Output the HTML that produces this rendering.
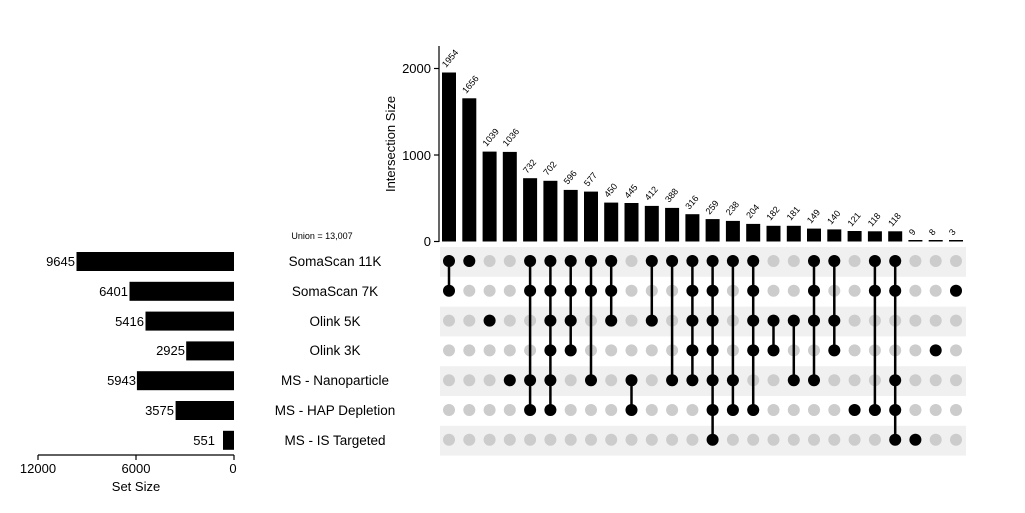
<!DOCTYPE html>
<html><head><meta charset="utf-8"><style>body{margin:0;background:#fff}svg{display:block;font-family:"Liberation Sans",sans-serif}</style></head><body>
<svg width="1025" height="513" viewBox="0 0 1025 513" xmlns="http://www.w3.org/2000/svg">
<g fill="#f0f0f0">
<rect x="440" y="247" width="526" height="29.8"/>
<rect x="440" y="306.6" width="526" height="29.8"/>
<rect x="440" y="366.2" width="526" height="29.8"/>
<rect x="440" y="425.8" width="526" height="29.8"/>
</g>
<!-- top axis -->
<g stroke="#000" stroke-width="1.2">
<line x1="439" y1="46" x2="439" y2="242"/>
<line x1="434" y1="241.5" x2="439" y2="241.5"/>
<line x1="434" y1="155" x2="439" y2="155"/>
<line x1="434" y1="68.5" x2="439" y2="68.5"/>
</g>
<g font-size="13" text-anchor="end" fill="#000">
<text x="431" y="246">0</text>
<text x="431" y="160">1000</text>
<text x="431" y="73">2000</text>
</g>
<text transform="translate(395,144) rotate(-90)" font-size="13" text-anchor="middle">Intersection Size</text>
<g fill="#000">
<rect x="442" y="72.5" width="14" height="169"/>
<rect x="462.3" y="98.3" width="14" height="143.2"/>
<rect x="482.6" y="151.6" width="14" height="89.9"/>
<rect x="502.8" y="151.9" width="14" height="89.6"/>
<rect x="523.1" y="178.2" width="14" height="63.3"/>
<rect x="543.4" y="180.8" width="14" height="60.7"/>
<rect x="563.7" y="189.9" width="14" height="51.6"/>
<rect x="584" y="191.6" width="14" height="49.9"/>
<rect x="604.2" y="202.6" width="14" height="38.9"/>
<rect x="624.5" y="203" width="14" height="38.5"/>
<rect x="644.8" y="205.9" width="14" height="35.6"/>
<rect x="665.1" y="207.9" width="14" height="33.6"/>
<rect x="685.4" y="214.2" width="14" height="27.3"/>
<rect x="705.6" y="219.1" width="14" height="22.4"/>
<rect x="725.9" y="220.9" width="14" height="20.6"/>
<rect x="746.2" y="223.9" width="14" height="17.6"/>
<rect x="766.5" y="225.8" width="14" height="15.7"/>
<rect x="786.8" y="225.8" width="14" height="15.7"/>
<rect x="807" y="228.6" width="14" height="12.9"/>
<rect x="827.3" y="229.4" width="14" height="12.1"/>
<rect x="847.6" y="231" width="14" height="10.5"/>
<rect x="867.9" y="231.3" width="14" height="10.2"/>
<rect x="888.2" y="231.3" width="14" height="10.2"/>
<rect x="908.4" y="240" width="14" height="1.5"/>
<rect x="928.7" y="240" width="14" height="1.5"/>
<rect x="949" y="240" width="14" height="1.5"/>
</g>
<g font-size="9" fill="#000">
<text transform="translate(446,68) rotate(-50)">1954</text>
<text transform="translate(466.3,94) rotate(-50)">1656</text>
<text transform="translate(486.6,147) rotate(-50)">1039</text>
<text transform="translate(506.8,147) rotate(-50)">1036</text>
<text transform="translate(527.1,174) rotate(-50)">732</text>
<text transform="translate(547.4,176) rotate(-50)">702</text>
<text transform="translate(567.7,185) rotate(-50)">596</text>
<text transform="translate(588,187) rotate(-50)">577</text>
<text transform="translate(608.2,198) rotate(-50)">450</text>
<text transform="translate(628.5,199) rotate(-50)">445</text>
<text transform="translate(648.8,201) rotate(-50)">412</text>
<text transform="translate(669.1,203) rotate(-50)">388</text>
<text transform="translate(689.4,210) rotate(-50)">316</text>
<text transform="translate(709.6,215) rotate(-50)">259</text>
<text transform="translate(729.9,216) rotate(-50)">238</text>
<text transform="translate(750.2,219) rotate(-50)">204</text>
<text transform="translate(770.5,221) rotate(-50)">182</text>
<text transform="translate(790.8,221) rotate(-50)">181</text>
<text transform="translate(811,224) rotate(-50)">149</text>
<text transform="translate(831.3,225) rotate(-50)">140</text>
<text transform="translate(851.6,227) rotate(-50)">121</text>
<text transform="translate(871.9,227) rotate(-50)">118</text>
<text transform="translate(892.2,227) rotate(-50)">118</text>
<text transform="translate(913,236) rotate(-50)">9</text>
<text transform="translate(933,236) rotate(-50)">8</text>
<text transform="translate(953,236) rotate(-50)">3</text>
</g>
<!-- gray dots -->
<defs><g id="col"><circle cx="0" cy="261" r="6"/><circle cx="0" cy="290.8" r="6"/><circle cx="0" cy="320.6" r="6"/><circle cx="0" cy="350.4" r="6"/><circle cx="0" cy="380.2" r="6"/><circle cx="0" cy="410" r="6"/><circle cx="0" cy="439.8" r="6"/></g></defs>
<g fill="#cccccc">
<use href="#col" x="449"/><use href="#col" x="469.3"/><use href="#col" x="489.6"/><use href="#col" x="509.8"/><use href="#col" x="530.1"/><use href="#col" x="550.4"/><use href="#col" x="570.7"/><use href="#col" x="591"/><use href="#col" x="611.2"/><use href="#col" x="631.5"/><use href="#col" x="651.8"/><use href="#col" x="672.1"/><use href="#col" x="692.4"/><use href="#col" x="712.6"/><use href="#col" x="732.9"/><use href="#col" x="753.2"/><use href="#col" x="773.5"/><use href="#col" x="793.8"/><use href="#col" x="814"/><use href="#col" x="834.3"/><use href="#col" x="854.6"/><use href="#col" x="874.9"/><use href="#col" x="895.2"/><use href="#col" x="915.4"/><use href="#col" x="935.7"/><use href="#col" x="956"/>
</g>
<!-- lines -->
<g stroke="#000" stroke-width="2.5">
<line x1="449" y1="261" x2="449" y2="290.8"/>
<line x1="530.1" y1="261" x2="530.1" y2="410"/>
<line x1="550.4" y1="261" x2="550.4" y2="410"/>
<line x1="570.7" y1="261" x2="570.7" y2="350.4"/>
<line x1="591" y1="261" x2="591" y2="380.2"/>
<line x1="611.2" y1="261" x2="611.2" y2="320.6"/>
<line x1="631.5" y1="380.2" x2="631.5" y2="410"/>
<line x1="651.8" y1="261" x2="651.8" y2="320.6"/>
<line x1="672.1" y1="261" x2="672.1" y2="380.2"/>
<line x1="692.4" y1="261" x2="692.4" y2="380.2"/>
<line x1="712.6" y1="261" x2="712.6" y2="439.8"/>
<line x1="732.9" y1="261" x2="732.9" y2="410"/>
<line x1="753.2" y1="261" x2="753.2" y2="410"/>
<line x1="773.5" y1="320.6" x2="773.5" y2="350.4"/>
<line x1="793.8" y1="320.6" x2="793.8" y2="380.2"/>
<line x1="814" y1="261" x2="814" y2="380.2"/>
<line x1="834.3" y1="261" x2="834.3" y2="350.4"/>
<line x1="874.9" y1="261" x2="874.9" y2="410"/>
<line x1="895.2" y1="261" x2="895.2" y2="439.8"/>
</g>
<g fill="#000">
<circle cx="449" cy="261" r="6"/><circle cx="449" cy="290.8" r="6"/>
<circle cx="469.3" cy="261" r="6"/>
<circle cx="489.6" cy="320.6" r="6"/>
<circle cx="509.8" cy="380.2" r="6"/>
<circle cx="530.1" cy="261" r="6"/><circle cx="530.1" cy="290.8" r="6"/><circle cx="530.1" cy="380.2" r="6"/><circle cx="530.1" cy="410" r="6"/>
<circle cx="550.4" cy="261" r="6"/><circle cx="550.4" cy="290.8" r="6"/><circle cx="550.4" cy="320.6" r="6"/><circle cx="550.4" cy="350.4" r="6"/><circle cx="550.4" cy="380.2" r="6"/><circle cx="550.4" cy="410" r="6"/>
<circle cx="570.7" cy="261" r="6"/><circle cx="570.7" cy="290.8" r="6"/><circle cx="570.7" cy="320.6" r="6"/><circle cx="570.7" cy="350.4" r="6"/>
<circle cx="591" cy="261" r="6"/><circle cx="591" cy="290.8" r="6"/><circle cx="591" cy="380.2" r="6"/>
<circle cx="611.2" cy="261" r="6"/><circle cx="611.2" cy="290.8" r="6"/><circle cx="611.2" cy="320.6" r="6"/>
<circle cx="631.5" cy="380.2" r="6"/><circle cx="631.5" cy="410" r="6"/>
<circle cx="651.8" cy="261" r="6"/><circle cx="651.8" cy="320.6" r="6"/>
<circle cx="672.1" cy="261" r="6"/><circle cx="672.1" cy="380.2" r="6"/>
<circle cx="692.4" cy="261" r="6"/><circle cx="692.4" cy="290.8" r="6"/><circle cx="692.4" cy="320.6" r="6"/><circle cx="692.4" cy="350.4" r="6"/><circle cx="692.4" cy="380.2" r="6"/>
<circle cx="712.6" cy="261" r="6"/><circle cx="712.6" cy="290.8" r="6"/><circle cx="712.6" cy="320.6" r="6"/><circle cx="712.6" cy="350.4" r="6"/><circle cx="712.6" cy="380.2" r="6"/><circle cx="712.6" cy="410" r="6"/><circle cx="712.6" cy="439.8" r="6"/>
<circle cx="732.9" cy="261" r="6"/><circle cx="732.9" cy="380.2" r="6"/><circle cx="732.9" cy="410" r="6"/>
<circle cx="753.2" cy="261" r="6"/><circle cx="753.2" cy="290.8" r="6"/><circle cx="753.2" cy="320.6" r="6"/><circle cx="753.2" cy="350.4" r="6"/><circle cx="753.2" cy="410" r="6"/>
<circle cx="773.5" cy="320.6" r="6"/><circle cx="773.5" cy="350.4" r="6"/>
<circle cx="793.8" cy="320.6" r="6"/><circle cx="793.8" cy="380.2" r="6"/>
<circle cx="814" cy="261" r="6"/><circle cx="814" cy="290.8" r="6"/><circle cx="814" cy="320.6" r="6"/><circle cx="814" cy="380.2" r="6"/>
<circle cx="834.3" cy="261" r="6"/><circle cx="834.3" cy="320.6" r="6"/><circle cx="834.3" cy="350.4" r="6"/>
<circle cx="854.6" cy="410" r="6"/>
<circle cx="874.9" cy="261" r="6"/><circle cx="874.9" cy="290.8" r="6"/><circle cx="874.9" cy="410" r="6"/>
<circle cx="895.2" cy="261" r="6"/><circle cx="895.2" cy="290.8" r="6"/><circle cx="895.2" cy="380.2" r="6"/><circle cx="895.2" cy="410" r="6"/><circle cx="895.2" cy="439.8" r="6"/>
<circle cx="915.4" cy="439.8" r="6"/>
<circle cx="935.7" cy="350.4" r="6"/>
<circle cx="956" cy="290.8" r="6"/>
</g>
<!-- set labels -->
<text x="322" y="239" font-size="9" text-anchor="middle">Union =  13,007</text>
<g font-size="13.5" text-anchor="middle">
<text x="335" y="266">SomaScan 11K</text>
<text x="335" y="296">SomaScan 7K</text>
<text x="335" y="326">Olink 5K</text>
<text x="335" y="355">Olink 3K</text>
<text x="335" y="385">MS - Nanoparticle</text>
<text x="335" y="415">MS - HAP Depletion</text>
<text x="335" y="445">MS - IS Targeted</text>
</g>
<!-- set size bars -->
<g fill="#000">
<rect x="76.5" y="252" width="157.5" height="19"/>
<rect x="129.5" y="281.8" width="104.5" height="19"/>
<rect x="145.5" y="311.6" width="88.5" height="19"/>
<rect x="186.2" y="341.4" width="47.8" height="19"/>
<rect x="136.9" y="371.2" width="97.1" height="19"/>
<rect x="175.6" y="401" width="58.4" height="19"/>
<rect x="223" y="430.8" width="11" height="19"/>
</g>
<g font-size="13" text-anchor="end">
<text x="75" y="266">9645</text>
<text x="128" y="296">6401</text>
<text x="144" y="326">5416</text>
<text x="185" y="355">2925</text>
<text x="136" y="385">5943</text>
<text x="174" y="415">3575</text>
<text x="215" y="445">551</text>
</g>
<g stroke="#000" stroke-width="1.2">
<line x1="38" y1="455" x2="234" y2="455"/>
<line x1="38" y1="455" x2="38" y2="460"/>
<line x1="136" y1="455" x2="136" y2="460"/>
<line x1="234" y1="455" x2="234" y2="460"/>
</g>
<g font-size="13" text-anchor="middle">
<text x="38" y="473">12000</text>
<text x="136" y="473">6000</text>
<text x="233" y="473">0</text>
<text x="136" y="491">Set Size</text>
</g>
</svg>
</body></html>
